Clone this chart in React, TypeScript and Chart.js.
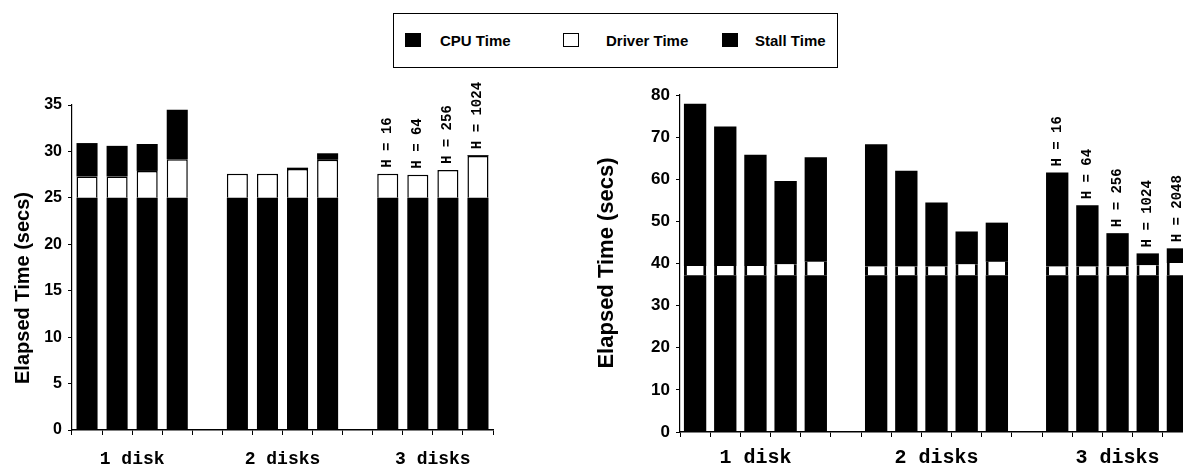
import React, { useEffect, useRef } from 'react';
import { Chart, registerables } from 'chart.js';

Chart.register(...registerables);

// ---------- Data: left chart (3 groups of 4 bars, gap slots between groups) ----------
const LEFT_SLOTS = ['1d-a', '1d-b', '1d-c', '1d-d', 'gap1', '2d-a', '2d-b', '2d-c', '2d-d', 'gap2', '3d-a', '3d-b', '3d-c', '3d-d'];
const LEFT_GROUPS = ['1 disk', '2 disks', '3 disks'];
const LEFT_CPU = [25, 25, 25, 25, null, 25, 25, 25, 25, null, 25, 25, 25, 25];
const LEFT_DRIVER = [2.3, 2.3, 2.9, 4.15, null, 2.6, 2.6, 3.1, 4.1, null, 2.6, 2.5, 3.0, 4.5];
const LEFT_STALL = [3.6, 3.3, 2.9, 5.35, null, 0, 0, 0.15, 0.7, null, 0, 0, 0, 0.1];
const LEFT_H_LABELS = ['H = 16', 'H = 64', 'H = 256', 'H = 1024'];
const LEFT_Y_MAX = 35;
const LEFT_Y_STEP = 5;

// ---------- Data: right chart (3 groups of 5 bars) ----------
const RIGHT_SLOTS = ['1d-a', '1d-b', '1d-c', '1d-d', '1d-e', 'gap1', '2d-a', '2d-b', '2d-c', '2d-d', '2d-e', 'gap2', '3d-a', '3d-b', '3d-c', '3d-d', '3d-e'];
const RIGHT_GROUPS = ['1 disk', '2 disks', '3 disks'];
const RIGHT_CPU = [37.2, 37.2, 37.2, 37.2, 37.2, null, 37.2, 37.2, 37.2, 37.2, 37.2, null, 37.2, 37.2, 37.2, 37.2, 37.2];
const RIGHT_DRIVER = [2.2, 2.2, 2.2, 2.6, 3.2, null, 2.1, 2.1, 2.1, 2.6, 3.2, null, 2.1, 2.1, 2.1, 2.4, 2.9];
const RIGHT_STALL = [38.5, 33.1, 26.4, 19.8, 24.8, null, 29.0, 22.7, 15.2, 7.8, 9.3, null, 22.3, 14.5, 7.9, 2.8, 3.5];
const RIGHT_H_LABELS = ['H = 16', 'H = 64', 'H = 256', 'H = 1024', 'H = 2048'];
const RIGHT_Y_MAX = 80;
const RIGHT_Y_STEP = 10;

const SERIES_NAMES = ['CPU Time', 'Driver Time', 'Stall Time'];
const Y_TITLE = 'Elapsed Time (secs)';

type Spec = {
  slots: string[];
  groups: string[];
  groupSize: number;
  cpu: (number | null)[];
  driver: (number | null)[];
  stall: (number | null)[];
  hLabels: string[];
  yMax: number;
  yStep: number;
  yAxisWidth: number;
  padTop: number;
  padRight: number;
  xLabelHeight: number;
  xLabelPad: number;
  xLabelSize: number;
  tickFont: any;
  titleFont: string;
  titleX: number;
  titleY: number;
  barPct: number;
  driverBorder: any;
  hFont: string;
};

function hLabelPlugin(labels: string[], startIndex: number, font: string) {
  return {
    id: 'hLabels',
    afterDatasetsDraw(chart: any) {
      const { ctx } = chart;
      const yScale = chart.scales.y;
      const meta0 = chart.getDatasetMeta(0);
      ctx.save();
      ctx.fillStyle = '#000';
      ctx.font = font;
      ctx.textAlign = 'left';
      ctx.textBaseline = 'middle';
      labels.forEach((lab, k) => {
        const i = startIndex + k;
        let total = 0;
        chart.data.datasets.forEach((ds: any) => {
          total += (ds.data[i] as number) || 0;
        });
        const el = meta0.data[i];
        if (!el) return;
        const top = yScale.getPixelForValue(total);
        ctx.save();
        ctx.translate(el.x, top - 6);
        ctx.rotate(-Math.PI / 2);
        ctx.fillText(lab, 0, 0);
        ctx.restore();
      });
      ctx.restore();
    },
  };
}

function yTitlePlugin(text: string, font: string, x: number, y: number) {
  return {
    id: 'yTitle',
    afterDraw(chart: any) {
      const { ctx } = chart;
      ctx.save();
      ctx.fillStyle = '#000';
      ctx.font = font;
      ctx.textAlign = 'center';
      ctx.textBaseline = 'middle';
      ctx.translate(x, y);
      ctx.rotate(-Math.PI / 2);
      ctx.fillText(text, 0, 0);
      ctx.restore();
    },
  };
}

function buildConfig(s: Spec): any {
  const n = s.slots.length;
  const centers = s.groups.map((_, k) => k * (s.groupSize + 1) + s.groupSize / 2);
  const lastStart = (s.groups.length - 1) * (s.groupSize + 1);
  return {
    type: 'bar',
    data: {
      labels: s.slots,
      datasets: [
        { label: SERIES_NAMES[0], data: s.cpu, backgroundColor: '#000', borderWidth: 0, xAxisID: 'x', yAxisID: 'y' },
        {
          label: SERIES_NAMES[1],
          data: s.driver,
          backgroundColor: '#fff',
          borderColor: '#000',
          borderWidth: s.driverBorder,
          borderSkipped: false,
          xAxisID: 'x',
          yAxisID: 'y',
        },
        { label: SERIES_NAMES[2], data: s.stall, backgroundColor: '#000', borderWidth: 0, xAxisID: 'x', yAxisID: 'y' },
      ],
    },
    options: {
      animation: false,
      responsive: false,
      maintainAspectRatio: false,
      datasets: { bar: { categoryPercentage: 1, barPercentage: s.barPct } },
      layout: { padding: { left: 0, top: s.padTop, right: s.padRight, bottom: 0 } },
      plugins: { legend: { display: false }, tooltip: { enabled: false }, title: { display: false } },
      scales: {
        x: {
          type: 'category',
          stacked: true,
          offset: true,
          weight: 0,
          position: 'bottom',
          grid: { display: true, offset: true, drawOnChartArea: false, drawTicks: true, tickLength: 5, color: '#000', lineWidth: 1 },
          border: { display: true, color: '#000', width: 1.5 },
          ticks: { display: false },
          afterFit: (sc: any) => { sc.height = 6; },
        },
        x2: {
          type: 'linear',
          position: 'bottom',
          weight: 1,
          offset: false,
          min: 0,
          max: n,
          grid: { display: false, drawTicks: false },
          border: { display: false },
          afterBuildTicks: (sc: any) => { sc.ticks = centers.map((v) => ({ value: v })); },
          ticks: {
            autoSkip: false,
            maxRotation: 0,
            padding: s.xLabelPad,
            color: '#000',
            font: { family: "'Liberation Mono', 'DejaVu Sans Mono', monospace", size: s.xLabelSize, weight: 'bold' },
            callback: (_v: any, i: number) => s.groups[i],
          },
          afterFit: (sc: any) => { sc.height = s.xLabelHeight; },
        },
        y: {
          type: 'linear',
          stacked: true,
          min: 0,
          max: s.yMax,
          grid: { display: true, drawOnChartArea: false, drawTicks: true, tickLength: 4, color: '#000' },
          border: { display: true, color: '#000', width: 1.2 },
          ticks: { stepSize: s.yStep, padding: 6, color: '#000', font: s.tickFont },
          title: { display: false },
          afterFit: (sc: any) => { sc.width = s.yAxisWidth; },
        },
      },
    },
    plugins: [hLabelPlugin(s.hLabels, lastStart, s.hFont), yTitlePlugin(Y_TITLE, s.titleFont, s.titleX, s.titleY)],
  };
}

const LEFT_SPEC: Spec = {
  slots: LEFT_SLOTS,
  groups: LEFT_GROUPS,
  groupSize: 4,
  cpu: LEFT_CPU,
  driver: LEFT_DRIVER,
  stall: LEFT_STALL,
  hLabels: LEFT_H_LABELS,
  yMax: LEFT_Y_MAX,
  yStep: LEFT_Y_STEP,
  yAxisWidth: 72,
  padTop: 105,
  padRight: 57,
  xLabelHeight: 32,
  xLabelPad: 13,
  xLabelSize: 18,
  tickFont: { family: "'Liberation Sans Narrow', 'Liberation Sans', Arial, sans-serif", size: 16, weight: 'bold' },
  titleFont: "bold 20px 'Liberation Sans', Arial, sans-serif",
  titleX: 23,
  titleY: 288,
  barPct: 0.7,
  driverBorder: { left: 1.5, right: 1.5, top: 1.5, bottom: 0 },
  hFont: "bold 14px 'Liberation Mono', monospace",
};

const RIGHT_SPEC: Spec = {
  slots: RIGHT_SLOTS,
  groups: RIGHT_GROUPS,
  groupSize: 5,
  cpu: RIGHT_CPU,
  driver: RIGHT_DRIVER,
  stall: RIGHT_STALL,
  hLabels: RIGHT_H_LABELS,
  yMax: RIGHT_Y_MAX,
  yStep: RIGHT_Y_STEP,
  yAxisWidth: 120,
  padTop: 95,
  padRight: 67,
  xLabelHeight: 30,
  xLabelPad: 8,
  xLabelSize: 20,
  tickFont: { family: "'Liberation Sans', Arial, sans-serif", size: 17, weight: 'bold' },
  titleFont: "bold 22px 'Liberation Sans', Arial, sans-serif",
  titleX: 47,
  titleY: 263,
  barPct: 0.74,
  driverBorder: { left: 3, right: 3, top: 0, bottom: 0 },
  hFont: "bold 14px 'Liberation Mono', monospace",
};

function BarChart({ spec, width, height, left }: { spec: Spec; width: number; height: number; left: number }) {
  const ref = useRef<HTMLCanvasElement | null>(null);
  useEffect(() => {
    if (!ref.current) return;
    const chart = new Chart(ref.current, buildConfig(spec));
    return () => chart.destroy();
  }, [spec, width, height]);
  return (
    <div style={{ position: 'absolute', left, top: 0, width, height }}>
      <canvas ref={ref} width={width} height={height} style={{ width, height, display: 'block' }} />
    </div>
  );
}

function Legend() {
  const txt: React.CSSProperties = {
    position: 'absolute',
    top: 0,
    lineHeight: '53px',
    fontFamily: "'Liberation Sans', Arial, sans-serif",
    fontWeight: 'bold',
    fontSize: 15,
    color: '#000',
    whiteSpace: 'nowrap',
  };
  const sq: React.CSSProperties = { position: 'absolute', top: 19, width: 16, height: 14, boxSizing: 'border-box' };
  return (
    <div
      style={{
        position: 'absolute',
        left: 393,
        top: 13,
        width: 445,
        height: 55,
        border: '1px solid #000',
        boxSizing: 'border-box',
        background: '#fff',
      }}
    >
      <div style={{ ...sq, left: 11, background: '#000' }} />
      <div style={{ ...txt, left: 46 }}>{SERIES_NAMES[0]}</div>
      <div style={{ ...sq, left: 169, background: '#fff', border: '1.5px solid #000' }} />
      <div style={{ ...txt, left: 212 }}>{SERIES_NAMES[1]}</div>
      <div style={{ ...sq, left: 328, background: '#000' }} />
      <div style={{ ...txt, left: 361 }}>{SERIES_NAMES[2]}</div>
    </div>
  );
}

export default function App() {
  return (
    <div
      style={{
        position: 'absolute',
        left: 0,
        top: 0,
        width: 1183,
        height: 468,
        overflow: 'hidden',
        background: '#fff',
      }}
    >
      <BarChart spec={LEFT_SPEC} width={550} height={468} left={0} />
      <BarChart spec={RIGHT_SPEC} width={700} height={468} left={560} />
      <Legend />
    </div>
  );
}
